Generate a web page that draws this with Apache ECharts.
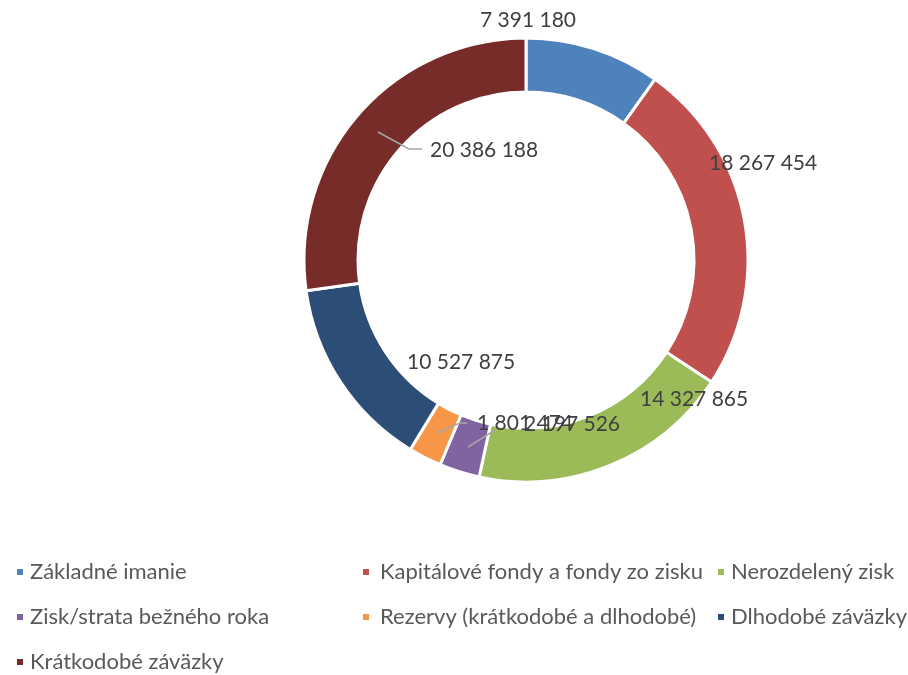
<!DOCTYPE html>
<html>
<head>
<meta charset="utf-8">
<script src="https://cdn.jsdelivr.net/npm/echarts@6/dist/echarts.min.js"></script>
<style>
html, body { margin: 0; padding: 0; background: #fff; }
#chart { width: 908px; height: 675px; }
</style>
</head>
<body>
<div id="chart"></div>
<script>
// data from the chart
var categories = [
    'Základné imanie',
    'Kapitálové fondy a fondy zo zisku',
    'Nerozdelený zisk',
    'Zisk/strata bežného roka',
    'Rezervy (krátkodobé a dlhodobé)',
    'Dlhodobé záväzky',
    'Krátkodobé záväzky'
];
var values = [7391180, 18267454, 14327865, 2197526, 1801474, 10527875, 20386188];

var colors = ['#4F81BD', '#C0504D', '#9BBB59', '#8064A2', '#F79646', '#2C4D75', '#772C2A'];

// where Excel placed each data label (x, y, align)
var labelSpots = [
    [480, 20, 'left'],
    [709, 163, 'left'],
    [640, 399, 'left'],
    [620, 424, 'right'],
    [477, 423, 'left'],
    [407, 362, 'left'],
    [430, 150, 'left']
];
// leader lines of the labels that were dragged off their slice
var leaderLines = [
    [[378, 132], [409, 149], [422, 149]],
    [[437, 433], [460, 423], [467, 423]],
    [[468, 447], [495, 430]]
];

function fmt(v) {
    return String(v).replace(/\B(?=(\d{3})+(?!\d))/g, ' ');
}

var pieData = [];
for (var i = 0; i < values.length; i++) {
    pieData.push({ name: categories[i], value: values[i] });
}

// legend in three columns like the original
function legendCol(left, names, gap) {
    return {
        orient: 'vertical',
        left: left,
        top: 561,
        height: 140,
        padding: 0,
        itemGap: 23,
        itemWidth: 8,
        itemHeight: 8,
        icon: 'rect',
        selectedMode: false,
        data: names,
        textStyle: {
            fontFamily: 'Lato',
            fontSize: 22,
            lineHeight: 22,
            color: '#595959',
            padding: [0, 0, 0, gap]
        }
    };
}

var graphics = [];
for (var k = 0; k < leaderLines.length; k++) {
    graphics.push({
        type: 'polyline',
        z: 100,
        shape: { points: leaderLines[k] },
        style: { stroke: '#a6a6a6', lineWidth: 1.5, fill: null }
    });
}

var chart = echarts.init(document.getElementById('chart'));
var option = {
    animation: false,
    color: colors,
    legend: [
        legendCol(15, [categories[0], categories[3], categories[6]], 1),
        legendCol(361, [categories[1], categories[4]], 5),
        legendCol(716, [categories[2], categories[5]], 1)
    ],
    graphic: graphics,
    series: [{
        type: 'pie',
        center: [526, 260],
        radius: [168, 222],
        startAngle: 90,
        clockwise: true,
        avoidLabelOverlap: false,
        emphasis: { disabled: true },
        itemStyle: {
            borderColor: '#ffffff',
            borderWidth: 3
        },
        label: {
            show: true,
            position: 'outside',
            formatter: function (p) { return fmt(p.value); },
            fontFamily: 'Lato',
            fontSize: 21,
            color: '#404040',
            overflow: 'none'
        },
        labelLine: { show: false },
        labelLayout: function (params) {
            var s = labelSpots[params.dataIndex];
            return {
                x: s[0],
                y: s[1],
                align: s[2],
                verticalAlign: 'middle'
            };
        },
        data: pieData
    }]
};
chart.setOption(option);
</script>
</body>
</html>
